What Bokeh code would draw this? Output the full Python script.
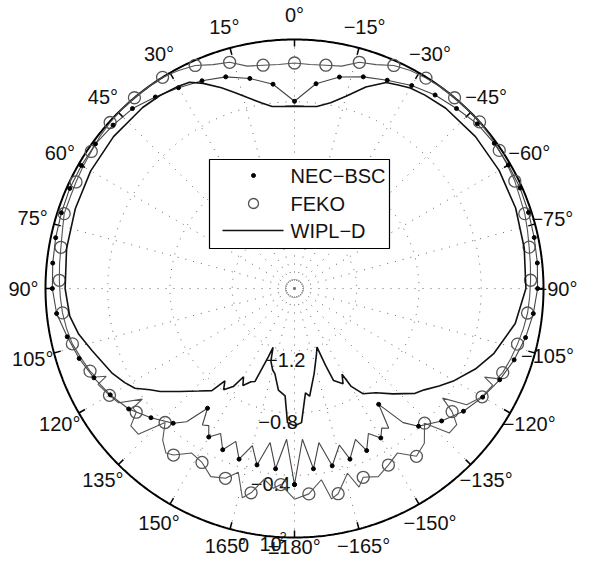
import numpy as np
from bokeh.plotting import figure
from bokeh.models import Range1d
from bokeh.core.properties import value
from bokeh.embed import file_html
from bokeh.resources import INLINE

# ---------------- data (angle in deg, 0 at top, positive counter-clockwise;
# value in radial-axis units, axis runs -1.6 (centre) ... 0 (outer ring)) ----
wipl_ang = [-180, -177, -174, -172, -167, -162, -159, -158, -157, -153, -151, -150,
            -147, -142, -137, -131, -128, -124, -120, -114, -108, -99, -90, -80, -70,
            -60, -50, -40, -34, -30, -27, -24, -19.5, -15, -11, -7, -3, 0, 3, 7, 10,
            14, 17, 20, 24, 27, 30, 35, 40, 50, 60, 70, 80, 90, 97, 102, 107, 115,
            119, 122, 125, 127.5, 132, 137, 141, 143, 145, 148, 150, 152, 155, 157,
            159, 160, 162, 165, 167, 171, 175, 177, 180]
wipl_val = [-0.718, -0.737, -0.926, -0.901, -1.039, -1.146, -1.197, -1.065, -0.957,
            -0.913, -0.970, -0.876, -0.794, -0.750, -0.674, -0.573, -0.542, -0.479,
            -0.416, -0.328, -0.252, -0.164, -0.113, -0.101, -0.088, -0.082, -0.082,
            -0.088, -0.101, -0.113, -0.132, -0.151, -0.227, -0.321, -0.384, -0.422,
            -0.428, -0.428, -0.428, -0.422, -0.390, -0.334, -0.283, -0.227, -0.157,
            -0.113, -0.101, -0.088, -0.082, -0.082, -0.088, -0.101, -0.113, -0.126,
            -0.145, -0.183, -0.239, -0.309, -0.353, -0.391, -0.466, -0.513, -0.611,
            -0.699, -0.756, -0.857, -0.806, -0.857, -0.945, -0.894, -0.939, -0.951,
            -1.128, -1.197, -1.109, -1.058, -1.039, -0.939, -0.907, -0.737, -0.718]

nec_ang = [-180, -177, -174, -171, -168, -164, -162, -158, -156, -153, -150, -148,
           -146, -144, -141, -138, -132, -126, -120, -114, -108, -102, -96, -90, -84,
           -78, -72, -66, -60, -54, -48, -42, -36, -30, -24, -18, -12, -6, 0, 6, 12,
           18, 24, 30, 36, 42, 48, 54, 60, 66, 72, 78, 84, 90, 96, 102, 108, 114, 120,
           126, 132, 138, 141, 144, 146, 148, 150, 153, 156, 159, 162, 165, 168, 171,
           174, 177, 180]
nec_val = [-0.340, -0.630, -0.435, -0.598, -0.435, -0.554, -0.447, -0.554, -0.460,
           -0.554, -0.491, -0.542, -0.517, -0.680, -0.491, -0.409, -0.328, -0.258,
           -0.204, -0.157, -0.116, -0.082, -0.057, -0.038, -0.031, -0.025, -0.019,
           -0.013, -0.013, -0.013, -0.019, -0.044, -0.063, -0.094, -0.135, -0.170,
           -0.211, -0.277, -0.397, -0.280, -0.220, -0.170, -0.139, -0.110, -0.079,
           -0.044, -0.031, -0.019, -0.019, -0.019, -0.025, -0.031, -0.038, -0.044,
           -0.063, -0.107, -0.145, -0.189, -0.233, -0.283, -0.359, -0.435, -0.498,
           -0.649, -0.542, -0.561, -0.498, -0.554, -0.466, -0.548, -0.447, -0.554,
           -0.441, -0.598, -0.435, -0.630, -0.340]

feko_ang = [-180, -176, -172, -170, -168, -164, -162, -160, -156, -152, -148, -144,
            -140, -136, -133, -130, -128, -126.5, -124, -120, -116, -115, -114, -112,
            -108, -104, -100, -96, -92, -88, -84, -80, -76, -72, -68, -64, -60, -56,
            -52, -48, -44, -40, -36, -32, -28, -24, -20, -16, -12, -8, -4, 0, 4, 8,
            12, 16, 20, 24, 28, 32, 36, 40, 44, 48, 52, 56, 60, 64, 68, 72, 76, 80,
            84, 88, 92, 96, 100, 104, 108, 112, 114, 115, 116, 120, 123, 126, 126.5,
            128, 130, 133, 136, 139, 142, 144, 148, 152, 156, 160, 163, 166, 168, 171,
            174, 176, 180]
feko_val = [-0.246, -0.277, -0.359, -0.227, -0.252, -0.365, -0.258, -0.309, -0.277,
            -0.315, -0.353, -0.267, -0.302, -0.397, -0.239, -0.239, -0.315, -0.416,
            -0.265, -0.208, -0.183, -0.252, -0.176, -0.157, -0.139, -0.123, -0.107,
            -0.094, -0.088, -0.082, -0.076, -0.069, -0.057, -0.044, -0.038, -0.025,
            -0.019, -0.013, -0.006, 0.0, 0.0, 0.0, 0.0, -0.006, -0.013, -0.031,
            -0.069, -0.088, -0.139, -0.151, -0.157, -0.151, -0.157, -0.151, -0.139,
            -0.088, -0.069, -0.031, -0.013, 0.0, 0.0, 0.0, 0.0, -0.006, -0.013,
            -0.025, -0.031, -0.038, -0.044, -0.044, -0.063, -0.076, -0.082, -0.088,
            -0.094, -0.101, -0.113, -0.129, -0.157, -0.183, -0.202, -0.265, -0.195,
            -0.227, -0.252, -0.391, -0.309, -0.309, -0.227, -0.227, -0.403, -0.309,
            -0.258, -0.277, -0.353, -0.334, -0.277, -0.302, -0.365, -0.214, -0.258,
            -0.359, -0.309, -0.337, -0.246]

rad_ticks = [-1.2, -0.8, -0.4]
rad_labels = ["\u22121.2", "\u22120.8", "\u22120.4"]
ang_ticks = [0, 15, 30, 45, 60, 75, 90, 105, 120, 135, 150, 165, 180,
             -165, -150, -135, -120, -105, -90, -75, -60, -45, -30, -15]
ang_labels = ["0\u00b0", "15\u00b0", "30\u00b0", "45\u00b0", "60\u00b0", "75\u00b0",
              "90\u00b0", "105\u00b0", "120\u00b0", "135\u00b0", "150\u00b0", "165\u00b0",
              "\u00b1180\u00b0", "\u2212165\u00b0", "\u2212150\u00b0", "\u2212135\u00b0",
              "\u2212120\u00b0", "\u2212105\u00b0", "\u221290\u00b0", "\u221275\u00b0",
              "\u221260\u00b0", "\u221245\u00b0", "\u221230\u00b0", "\u221215\u00b0"]
series_names = ["NEC\u2212BSC", "FEKO", "WIPL\u2212D"]

# ---------------- geometry ----------------
R_MIN, R_MAX = -1.6, 0.0
RPX = 249.0
FONT = value("Liberation Sans")
TXT = dict(text_font=FONT, text_font_size="20px", text_color="#111111")


def rpx(v):
    return (np.asarray(v, dtype=float) - R_MIN) / (R_MAX - R_MIN) * RPX


def xy(ang, r):
    t = np.radians(np.asarray(ang, dtype=float))
    r = np.asarray(r, dtype=float)
    return -r * np.sin(t), r * np.cos(t)


W, H = 577, 559
CX, CY = 294, 288
p = figure(width=W, height=H, output_backend="svg", toolbar_location=None,
           x_range=Range1d(-CX, W - CX), y_range=Range1d(-(H - CY), CY),
           min_border=0, min_border_left=0, min_border_right=0,
           min_border_top=0, min_border_bottom=0)
p.axis.visible = False
p.grid.visible = False
p.outline_line_color = None
p.background_fill_color = "white"
p.border_fill_color = "white"

dot_style = dict(line_color="#666666", line_width=1, line_dash="1 7")
circ_t = np.linspace(0, 360, 721)

# radial grid circles
for v in rad_ticks:
    gx, gy = xy(circ_t, np.full_like(circ_t, rpx(v)))
    p.line(gx, gy, **dot_style)
gx, gy = xy(circ_t, np.full_like(circ_t, 9.0))
p.line(gx, gy, line_color="#999999", line_width=1)

# spokes every 15 deg
sx0, sy0 = xy(ang_ticks, np.full(len(ang_ticks), 0.0))
sx1, sy1 = xy(ang_ticks, np.full(len(ang_ticks), RPX))
p.segment(sx0, sy0, sx1, sy1, **dot_style)

# outer ring + ticks
ox, oy = xy(circ_t, np.full_like(circ_t, RPX))
p.line(ox, oy, line_color="black", line_width=2)
tx0, ty0 = xy(ang_ticks, np.full(len(ang_ticks), RPX))
tx1, ty1 = xy(ang_ticks, np.full(len(ang_ticks), RPX - 7))
p.segment(tx0, ty0, tx1, ty1, line_color="black", line_width=1.5)

# angle labels (radius trimmed where the page edge would clip them)
lab_r = {0: 274, -90: 262, -75: 267, -105: 262, 165: 267, -165: 267, 180: 258}
lr = [lab_r.get(a, 271) for a in ang_ticks]
lx, ly = xy(ang_ticks, lr)
p.text(lx, ly, text=ang_labels, text_align="center", text_baseline="middle", **TXT)

# radial labels
rl_r = rpx(rad_ticks) + 10
rlx, rly = xy(np.full(len(rad_ticks), 173.0), rl_r)
p.text(rlx, rly, text=rad_labels, text_align="center", text_baseline="middle", **TXT)
p.text([-51], [-256], text=["0"], text_align="center", text_baseline="middle", **TXT)
p.text([-35], [-255], text=["10"], text_align="left", text_baseline="middle", **TXT)
p.text([-15], [-248], text=["2"], text_align="left", text_baseline="middle",
       text_font=FONT, text_font_size="13px", text_color="#111111")

# ---------------- curves ----------------
fx, fy = xy(feko_ang, rpx(feko_val))
p.line(fx, fy, line_color="#555555", line_width=1.1)
fm = [i for i, a in enumerate(feko_ang) if float(a) % 8 == 0]
p.scatter(fx[fm], fy[fm], marker="circle", size=12, fill_color=None,
          line_color="#555555", line_width=1.3)

nx, ny = xy(nec_ang, rpx(nec_val))
p.line(nx, ny, line_color="#444444", line_width=1.1)
nm = [i for i, a in enumerate(nec_ang) if float(a) % 6 == 0]
p.scatter(nx[nm], ny[nm], marker="circle", size=4, fill_color="black",
          line_color="black")

wx, wy = xy(wipl_ang, rpx(wipl_val))
p.line(wx, wy, line_color="#111111", line_width=1.6)

# ---------------- legend ----------------
p.quad(left=[-85], right=[95], top=[129], bottom=[40], fill_color="white",
       line_color="black", line_width=1.2)
p.scatter([-41], [113], marker="circle", size=4, fill_color="black", line_color="black")
p.scatter([-41], [85], marker="circle", size=10, fill_color=None,
          line_color="#555555", line_width=1.3)
p.line([-72, -11], [58, 58], line_color="#111111", line_width=1.6)
p.text([-4, -4, -4], [113, 85, 58], text=series_names, text_align="left",
       text_baseline="middle", **TXT)

open("out.html", "w").write(file_html(p, INLINE))
